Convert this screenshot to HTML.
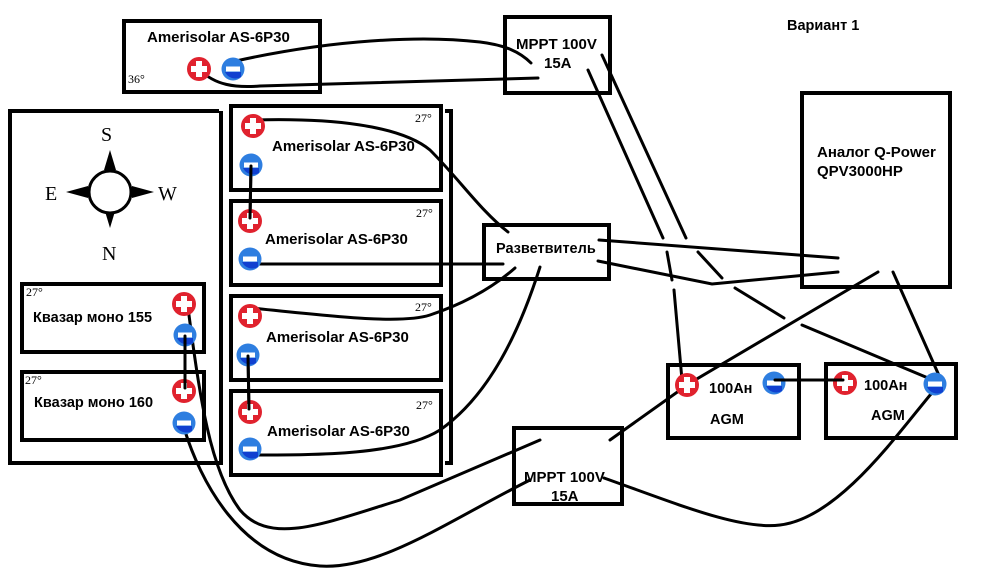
<!DOCTYPE html>
<html><head><meta charset="utf-8"><style>
html,body{margin:0;padding:0;background:#fff}
svg{display:block}
text{font-family:"Liberation Sans",sans-serif;font-weight:bold;fill:#000}
.s{font-family:"Liberation Serif",serif;font-weight:normal}
</style></head><body>
<svg width="1000" height="575" viewBox="0 0 1000 575" xmlns="http://www.w3.org/2000/svg">
<defs>
<g id="p"><circle r="12" fill="#e0222e"/><rect x="-3" y="-8" width="6" height="16" fill="#fff"/><rect x="-8" y="-3" width="16" height="6" fill="#fff"/></g>
<g id="m"><circle r="11.5" fill="#2e7ee0"/><path d="M-8,3 A11.5,11.5 0 0 0 8,8 L8,3Z" fill="#1040d0"/><rect x="-7" y="-2.5" width="14" height="5" fill="#fff"/></g>
</defs>
<g fill="none" stroke="#000" stroke-width="4">
<rect x="124" y="21" width="196" height="71"/>
<rect x="505" y="17" width="105" height="76"/>
<rect x="802" y="93" width="148" height="194"/>
<path d="M219,111 H10 V463 H221 V111"/>
<path d="M445,111 H451 V463 H445"/>
<rect x="231" y="106" width="210" height="84"/>
<rect x="231" y="201" width="210" height="84"/>
<rect x="231" y="296" width="210" height="84"/>
<rect x="231" y="391" width="210" height="84"/>
<rect x="22" y="284" width="182" height="68"/>
<rect x="22" y="372" width="182" height="68"/>
<rect x="484" y="225" width="125" height="54"/>
<rect x="668" y="365" width="131" height="73"/>
<rect x="826" y="364" width="130" height="74"/>
<rect x="514" y="428" width="108" height="76"/>
</g>
<g fill="none" stroke="#000" stroke-width="3" stroke-linecap="round">
<path d="M236,61 C330,40 420,35 480,42 C505,45 520,52 531,63"/>
<path d="M200,70 C215,85 235,88 260,86 L538,78"/>
<path d="M588,70 L663,238 M667,252 L672,280 M674,290 L682,380"/>
<path d="M602,55 L686,238 M698,252 L722,278 M735,288 L784,318 M802,325 L940,383"/>
<path d="M255,120 C330,118 400,125 430,150 C460,180 480,210 508,232"/>
<path d="M250,264 L503,264"/>
<path d="M252,308 C320,315 400,325 430,315 C460,305 490,290 515,268"/>
<path d="M252,455 C320,455 400,455 440,430 C490,395 520,330 540,267"/>
<path d="M599,240 L838,258"/>
<path d="M598,261 L712,284 L838,272"/>
<path d="M878,272 L690,383 L610,440"/>
<path d="M893,272 L941,380"/>
<path d="M604,478 C680,505 740,530 780,525 C840,518 900,430 936,388"/>
<path d="M187,300 C200,400 210,470 240,510 C270,545 320,525 400,500 L540,440"/>
<path d="M184,428 C200,480 240,560 320,566 C380,570 450,520 530,480"/>
<path d="M251,165 L250,221 M248,355 L249,412 M774,380 L845,380 M185,335 L185,391"/>
</g>
<use href="#p" x="199" y="69"/><use href="#m" x="233" y="69"/>
<use href="#p" x="253" y="126"/><use href="#m" x="251" y="165"/>
<use href="#p" x="250" y="221"/><use href="#m" x="250" y="259"/>
<use href="#p" x="250" y="316"/><use href="#m" x="248" y="355"/>
<use href="#p" x="250" y="412"/><use href="#m" x="250" y="449"/>
<use href="#p" x="184" y="304"/><use href="#m" x="185" y="335"/>
<use href="#p" x="184" y="391"/><use href="#m" x="184" y="423"/>
<use href="#p" x="687" y="385"/><use href="#m" x="774" y="383"/>
<use href="#p" x="845" y="383"/><use href="#m" x="935" y="384"/>
<g stroke="#000" stroke-width="3" fill="none" stroke-linecap="round">
<path d="M251,166 L250,218 M185,336 L185,388 M248,356 L249,409 M775,380 L843,380"/>
</g>
<g fill="#000">
<path d="M110,150 L104,170 L116,170Z"/>
<path d="M110,228 L104,208 L116,208Z"/>
<path d="M66,192 L88,186 L88,198Z"/>
<path d="M154,192 L132,186 L132,198Z"/>
</g>
<circle cx="110" cy="192" r="21" fill="#fff" stroke="#000" stroke-width="3"/>
<text class="s" x="101" y="141" font-size="20">S</text>
<text class="s" x="102" y="260" font-size="20">N</text>
<text class="s" x="45" y="200" font-size="20">E</text>
<text class="s" x="158" y="200" font-size="20">W</text>
<text x="147" y="42" font-size="15">Amerisolar AS-6P30</text>
<text class="s" x="128" y="83" font-size="12">36°</text>
<text x="272" y="151" font-size="15">Amerisolar AS-6P30</text>
<text x="265" y="244" font-size="15">Amerisolar AS-6P30</text>
<text x="266" y="342" font-size="15">Amerisolar AS-6P30</text>
<text x="267" y="436" font-size="15">Amerisolar AS-6P30</text>
<text class="s" x="415" y="122" font-size="12">27°</text>
<text class="s" x="416" y="217" font-size="12">27°</text>
<text class="s" x="415" y="311" font-size="12">27°</text>
<text class="s" x="416" y="409" font-size="12">27°</text>
<text class="s" x="26" y="296" font-size="12">27°</text>
<text class="s" x="25" y="384" font-size="12">27°</text>
<text x="33" y="322" font-size="14.5">Квазар моно 155</text>
<text x="34" y="407" font-size="14.5">Квазар моно 160</text>
<text x="516" y="49" font-size="15">MPPT 100V</text>
<text x="544" y="68" font-size="15">15A</text>
<text x="524" y="482" font-size="15">MPPT 100V</text>
<text x="551" y="501" font-size="15">15A</text>
<text x="496" y="253" font-size="14.5">Разветвитель</text>
<text x="787" y="30" font-size="14.5">Вариант 1</text>
<text x="817" y="157" font-size="15">Аналог Q-Power</text>
<text x="817" y="176" font-size="15">QPV3000HP</text>
<text x="709" y="393" font-size="14.5">100Ан</text>
<text x="710" y="424" font-size="14.5">AGM</text>
<text x="864" y="390" font-size="14.5">100Ан</text>
<text x="871" y="420" font-size="14.5">AGM</text>
</svg>
</body></html>
